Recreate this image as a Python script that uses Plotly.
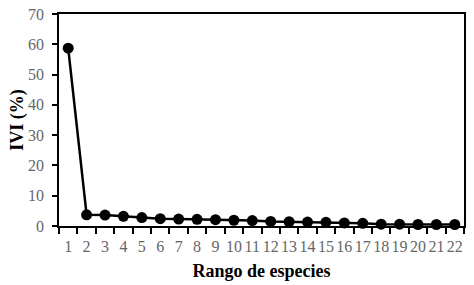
import plotly.graph_objects as go

rank = [str(i) for i in range(1, 23)]
ivi = [58.7, 3.7, 3.6, 3.2, 2.8, 2.4, 2.3, 2.2, 2.1, 1.9, 1.8, 1.5, 1.4, 1.3, 1.2, 1.0, 0.9, 0.6, 0.6, 0.5, 0.5, 0.5]

fig = go.Figure(go.Scatter(
    x=rank, y=ivi, mode="lines+markers",
    line=dict(color="black", width=2.5),
    marker=dict(color="black", size=11),
    cliponaxis=False,
))

serif = "Liberation Serif"

fig.update_layout(
    width=474, height=285,
    margin=dict(l=59, r=10, t=14, b=59),
    paper_bgcolor="white", plot_bgcolor="white",
    showlegend=False,
    font=dict(family=serif, size=16, color="#666666"),
    xaxis=dict(
        type="category", tickson="boundaries", ticks="outside", ticklen=6,
        tickcolor="black", tickwidth=1.5, range=[-0.5, 21.5],
        tickmode="array", tickvals=rank, ticktext=rank,
        ticklabelstandoff=5, automargin=False,
        showline=True, linecolor="black", linewidth=1.5, mirror=True,
        showgrid=False, tickangle=0,
        tickfont=dict(family=serif, size=16, color="#666666"),
        title=dict(text="<b>Rango de especies</b>", font=dict(family=serif, size=18, color="black"), standoff=10),
    ),
    yaxis=dict(
        range=[0, 70], dtick=10, ticks="outside", ticklen=5,
        tickcolor="black", tickwidth=1.5,
        ticklabelstandoff=5, automargin=False,
        showline=True, linecolor="black", linewidth=1.5, mirror=True,
        showgrid=False, zeroline=False,
        tickfont=dict(family=serif, size=16, color="#666666"),
        title=dict(text="<b>IVI (%)</b>", font=dict(family=serif, size=18, color="black"), standoff=0),
    ),
)

fig.write_html("out.html", config={"displayModeBar": False},
               post_script="document.body.style.margin='0';document.body.style.overflow='hidden';")
